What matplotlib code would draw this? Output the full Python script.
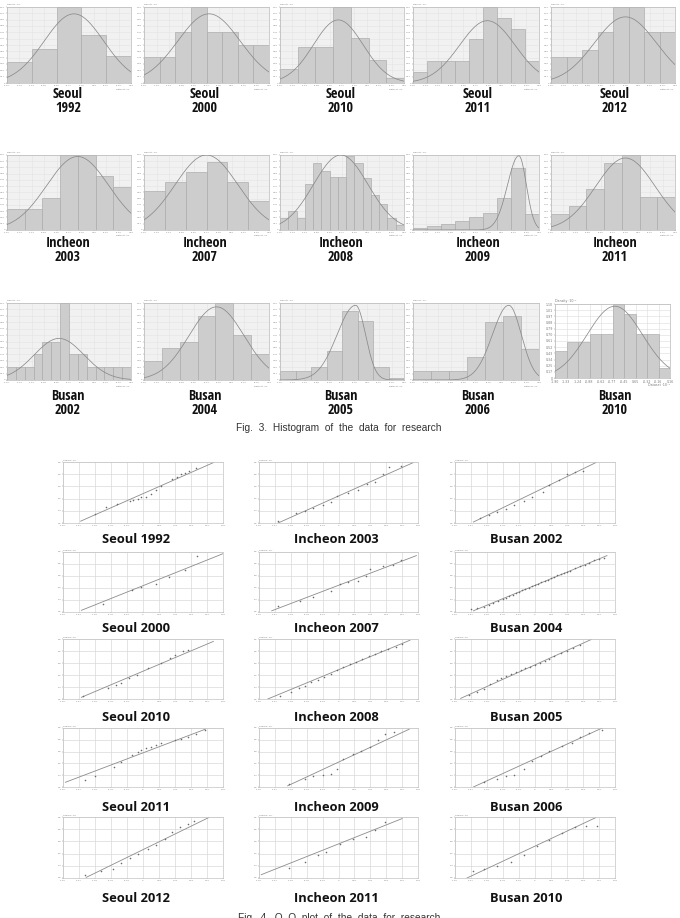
import numpy as np
import matplotlib
matplotlib.use("Agg")
import matplotlib.pyplot as plt
import matplotlib.font_manager as fm

W, H = 680, 918
DPI = 100

# ---------------- Histogram data (bar heights, % of panel top) ----------------
hist_names = ["Seoul 1992", "Seoul 2000", "Seoul 2010", "Seoul 2011", "Seoul 2012",
              "Incheon 2003", "Incheon 2007", "Incheon 2008", "Incheon 2009", "Incheon 2011",
              "Busan 2002", "Busan 2004", "Busan 2005", "Busan 2006", "Busan 2010"]

seoul_1992 = [27, 45, 100, 63, 36]
seoul_2000 = [34, 34, 67, 100, 67, 67, 50, 50]
seoul_2010 = [18, 48, 48, 100, 59, 30, 6]
seoul_2011 = [14, 29, 29, 29, 58, 100, 86, 71, 29]
seoul_2012 = [34, 34, 43, 67, 100, 100, 67, 67]
incheon_2003 = [28, 28, 42, 100, 100, 72, 57]
incheon_2007 = [52, 64, 77, 90, 64, 39]
incheon_2008 = [16, 25, 16, 61, 89, 79, 70, 70, 98, 89, 69, 47, 35, 16, 7]
incheon_2009 = [2, 5, 8, 12, 17, 23, 43, 83, 21]
incheon_2011 = [21, 32, 54, 89, 100, 44, 44]
busan_2002 = [17, 17, 17, 34, 50, 50, 100, 34, 34, 17, 17, 17, 17, 17]
busan_2004 = [25, 41, 50, 83, 100, 59, 34]
busan_2005 = [12, 12, 17, 38, 89, 77, 17, 3]
busan_2006 = [12, 12, 12, 30, 75, 83, 40]
busan_2010 = [36, 48, 48, 60, 60, 100, 87, 60, 60, 14]

hist_heights = [seoul_1992, seoul_2000, seoul_2010, seoul_2011, seoul_2012,
                incheon_2003, incheon_2007, incheon_2008, incheon_2009, incheon_2011,
                busan_2002, busan_2004, busan_2005, busan_2006, busan_2010]

# fitted density curve: centre (fraction of x range), left / right spread, peak (%)
curve_mu = [0.54, 0.52, 0.47, 0.59, 0.60, 0.57, 0.50, 0.49, 0.84, 0.60, 0.42, 0.58, 0.61, 0.76, 0.52]
curve_sl = [0.24, 0.25, 0.20, 0.22, 0.25, 0.25, 0.25, 0.22, 0.09, 0.24, 0.20, 0.22, 0.15, 0.13, 0.24]
curve_sr = [0.24, 0.25, 0.20, 0.22, 0.25, 0.25, 0.25, 0.22, 0.06, 0.24, 0.20, 0.22, 0.08, 0.10, 0.24]
curve_peak = [91, 91, 83, 82, 87, 98, 100, 100, 99, 96, 54, 95, 97, 97, 97]

hist_ytick_labels = ["0", "0.17", "0.25", "0.34", "0.43", "0.52", "0.61", "0.70",
                     "0.79", "0.88", "0.97", "1.01", "1.10"]
hist_xtick_labels = ["-1.90", "-1.33", "-1.24", "-0.88", "-0.62", "-0.77",
                     "-0.45", "0.65", "-0.32", "-0.16", "0.16"]

# ---------------- Q-Q data ----------------
qq_names = ["Seoul 1992", "Incheon 2003", "Busan 2002",
            "Seoul 2000", "Incheon 2007", "Busan 2004",
            "Seoul 2010", "Incheon 2008", "Busan 2005",
            "Seoul 2011", "Incheon 2009", "Busan 2006",
            "Seoul 2012", "Incheon 2011", "Busan 2010"]

# reference line endpoints (theoretical x, sample y)
qq_line = [((1.1, 0.15), (9.4, 4.95)), ((1.2, 0.0), (9.7, 4.95)), ((1.15, 0.08), (8.8, 4.95)),
           ((1.15, 0.14), (10.0, 4.86)), ((0.8, 0.1), (9.9, 4.7)), ((1.15, 0.1), (9.5, 4.7)),
           ((1.15, 0.14), (9.4, 4.8)), ((0.55, 0.0), (9.5, 4.9)), ((0.35, 0.05), (8.5, 4.95)),
           ((0.15, 0.4), (8.9, 4.9)), ((1.8, 0.1), (9.45, 4.9)), ((1.15, 0.0), (9.2, 5.0)),
           ((1.45, 0.05), (9.1, 4.95)), ((0.14, 0.27), (9.0, 4.87)), ((0.75, 0.0), (8.8, 4.95))]

qq_x = [
    [2.0, 2.7, 3.4, 4.2, 4.4, 4.7, 4.9, 5.2, 5.5, 5.8, 6.1, 6.8, 7.1, 7.4, 7.6, 7.9, 8.3],
    [1.2, 2.3, 2.9, 3.4, 4.0, 4.5, 4.9, 5.6, 6.2, 6.8, 7.3, 7.8, 8.2, 8.9],
    [1.55, 2.1, 2.6, 3.2, 3.7, 4.3, 4.8, 5.5, 5.9, 6.5, 7.0, 7.5, 8.0],
    [2.5, 4.3, 4.9, 5.8, 6.6, 7.6, 8.4],
    [1.2, 2.6, 3.4, 4.5, 5.1, 5.6, 6.2, 6.7, 7.0, 7.8, 8.4, 8.9],
    [1.0, 1.4, 1.8, 2.1, 2.4, 2.7, 3.0, 3.2, 3.4, 3.6, 3.8, 4.0, 4.2, 4.4, 4.6, 4.8, 5.0, 5.2,
     5.4, 5.6, 5.8, 6.0, 6.2, 6.4, 6.6, 6.8, 7.0, 7.2, 7.5, 7.8, 8.1, 8.4, 8.7, 9.0, 9.3],
    [1.25, 2.8, 3.3, 3.6, 4.1, 4.6, 5.3, 6.1, 6.7, 7.0, 7.5, 7.8],
    [1.3, 2.0, 2.5, 2.9, 3.3, 3.7, 4.1, 4.5, 4.9, 5.3, 5.7, 6.1, 6.5, 6.9, 7.3, 7.7, 8.1, 8.6, 9.0],
    [0.9, 1.4, 1.8, 2.2, 2.6, 2.9, 3.2, 3.5, 3.8, 4.1, 4.4, 4.7, 5.0, 5.3, 5.6, 5.9, 6.2, 6.6,
     7.0, 7.4, 7.8],
    [1.35, 2.0, 3.2, 3.6, 4.3, 4.7, 4.9, 5.2, 5.5, 5.8, 6.1, 7.0, 7.4, 7.8, 8.3, 8.85],
    [1.9, 2.9, 3.4, 4.0, 4.5, 4.9, 5.3, 5.9, 6.4, 7.0, 7.5, 7.9, 8.5],
    [1.8, 2.6, 3.2, 3.7, 4.3, 4.8, 5.4, 5.9, 6.7, 7.3, 7.8, 8.4, 9.2],
    [1.35, 2.4, 3.1, 3.6, 4.2, 4.7, 5.3, 5.8, 6.35, 6.8, 7.3, 7.8, 8.2],
    [1.9, 2.9, 3.7, 4.2, 5.1, 5.9, 6.7, 7.3, 7.9],
    [1.15, 1.8, 2.6, 3.5, 4.3, 5.1, 5.9, 6.7, 7.5, 8.2, 8.9],
]
qq_y = [
    [0.76, 1.3, 1.57, 1.8, 1.9, 2.0, 2.1, 2.16, 2.4, 2.7, 3.0, 3.6, 3.8, 4.0, 4.1, 4.3, 4.5],
    [0.16, 0.8, 1.0, 1.25, 1.45, 1.7, 2.25, 2.5, 2.7, 3.2, 3.35, 4.0, 4.6, 4.7],
    [0.44, 0.63, 0.9, 1.17, 1.45, 1.8, 2.13, 2.54, 3.1, 3.5, 4.0, 4.2, 4.3],
    [0.64, 1.8, 2.1, 2.3, 2.9, 3.5, 4.7],
    [0.46, 0.95, 1.27, 1.76, 2.35, 2.5, 2.6, 3.0, 3.6, 3.8, 3.9, 4.3],
    [0.25, 0.3, 0.4, 0.55, 0.72, 0.9, 1.05, 1.2, 1.3, 1.42, 1.6, 1.7, 1.85, 1.95, 2.0, 2.15, 2.25,
     2.35, 2.5, 2.6, 2.7, 2.85, 2.95, 3.05, 3.15, 3.25, 3.3, 3.45, 3.65, 3.8, 3.95, 4.1, 4.3, 4.4, 4.5],
    [0.22, 0.9, 1.2, 1.3, 1.75, 2.0, 2.6, 3.0, 3.4, 3.7, 4.0, 4.1],
    [0.25, 0.55, 0.9, 1.1, 1.45, 1.6, 1.85, 2.1, 2.45, 2.7, 2.9, 3.1, 3.3, 3.55, 3.75, 4.0, 4.2, 4.35, 4.6],
    [0.3, 0.55, 0.85, 1.25, 1.55, 1.75, 1.95, 2.1, 2.25, 2.4, 2.55, 2.7, 2.85, 3.0, 3.2, 3.35, 3.55,
     3.8, 4.0, 4.25, 4.5],
    [0.6, 0.9, 1.7, 2.15, 2.7, 3.0, 3.1, 3.3, 3.4, 3.55, 3.7, 4.0, 4.1, 4.25, 4.45, 4.8],
    [0.28, 0.7, 0.9, 1.0, 1.1, 1.5, 2.35, 2.8, 3.05, 3.4, 4.0, 4.45, 4.7],
    [0.4, 0.7, 0.9, 1.0, 1.5, 2.2, 2.6, 3.05, 3.5, 3.75, 4.2, 4.6, 4.8],
    [0.27, 0.54, 0.73, 1.2, 1.6, 2.0, 2.4, 2.7, 3.2, 3.8, 4.2, 4.45, 4.7],
    [0.8, 1.35, 1.9, 2.15, 2.8, 3.2, 3.4, 3.9, 4.6],
    [0.6, 0.73, 0.95, 1.35, 1.9, 2.6, 3.1, 3.65, 4.2, 4.3, 4.25],
]
qq_xtick_labels = ["-1.96", "-1.57", "-1.18", "-0.78", "-0.39", "0", "0.39", "0.78", "1.18", "1.57", "1.96"]
qq_ytick_labels = ["3.2", "4.4", "5.6", "6.8", "8.0", "9.2"]

caption3 = "Fig.  3.  Histogram  of  the  data  for  research"
caption4 = "Fig.  4.  Q\u2013Q  plot  of  the  data  for  research"

# ---------------- layout (pixels) ----------------
hist_cols = [(7, 131), (144, 269), (280, 404), (413, 539), (551, 675)]
hist_rows = [(7, 83), (155, 230), (303, 380)]
hist_label_cx = [68, 205, 341, 478, 615]
hist_label_base = [(98, 112), (247, 261), (400, 414)]

qq_cols = [(63, 223), (259, 418), (455, 615)]
qq_rows = [(462, 523), (552, 612), (639, 699), (728, 787), (817, 878)]
qq_label_cx = [136, 336, 526]
qq_label_base = [543, 632, 721, 811, 902]

fig = plt.figure(figsize=(W / DPI, H / DPI), dpi=DPI)
fig.patch.set_facecolor("white")

LABEL_FONT = ["Open Sans", "DejaVu Sans"]
CAP_FONT = ["Liberation Sans", "DejaVu Sans"]

# narrow bold face for the histogram labels (the original lettering is condensed)
_names = {f.name for f in fm.fontManager.ttflist}
HIST_LABEL_KW = dict(family=LABEL_FONT, fontsize=9.6)
for cand, size in [("Open Sans Condensed", 10.2), ("Roboto Condensed", 10.2),
                   ("Liberation Sans Narrow", 10.2)]:
    if cand in _names:
        HIST_LABEL_KW = dict(family=[cand, "DejaVu Sans"], fontsize=size)
        break
else:
    if any(f.name == "DejaVu Sans" and f.stretch == "condensed" for f in fm.fontManager.ttflist):
        HIST_LABEL_KW = dict(family=["DejaVu Sans"], fontstretch="condensed", fontsize=9.8)


def add_ax(x0, y0, x1, y1):
    return fig.add_axes([x0 / W, 1 - y1 / H, (x1 - x0) / W, (y1 - y0) / H])


def fig_text(x, y, s, **kw):
    fig.text(x / W, 1 - y / H, s, **kw)


# ---------------- histograms ----------------
for i, name in enumerate(hist_names):
    r, c = divmod(i, 5)
    x0, x1 = hist_cols[c]
    y0, y1 = hist_rows[r]
    special = (name == "Busan 2010")
    if special:
        x0, x1 = 555, 670
        y0, y1 = 304, 378
    ax = add_ax(x0, y0, x1, y1)
    h = hist_heights[i]
    n = len(h)
    ax.set_facecolor("#ffffff" if special else "#f1f1f1")
    ax.bar(np.arange(n), h, width=1.0, align="edge", color="#cdcdcd",
           edgecolor="#a9a9a9", linewidth=0.45, zorder=2)
    xs = np.linspace(0, 1, 400)
    s = np.where(xs < curve_mu[i], curve_sl[i], curve_sr[i])
    ys = curve_peak[i] * np.exp(-0.5 * ((xs - curve_mu[i]) / s) ** 2)
    ax.plot(xs * n, ys, color="#8a8a8a", lw=0.55, zorder=3)
    ax.set_xlim(0, n)
    ax.set_ylim(0, 100)
    yt = np.linspace(0, 100, len(hist_ytick_labels))
    ax.set_yticks(yt)
    ax.set_yticklabels(hist_ytick_labels)
    xt = np.linspace(0, n, len(hist_xtick_labels))
    ax.set_xticks(xt)
    ax.set_xticklabels(hist_xtick_labels)
    ax.grid(True, color="#dcdcdc" if special else "#e3e3e3", lw=0.4, zorder=1)
    ax.set_axisbelow(True)
    ls = 2.3 if special else 1.6
    ax.tick_params(length=0.8, width=0.3, labelsize=ls, pad=0.6, colors="#7a7a7a")
    for sp in ax.spines.values():
        sp.set_color("#b8b8b8")
        sp.set_linewidth(0.5)
    ax.text(0.0, 1.02, "Density \u00b710\u207b\u00b9", transform=ax.transAxes,
            fontsize=ls, color="#777777", ha="left", va="bottom")
    ax.text(1.0, -0.07, "Dataset \u00b710\u207b\u00b9", transform=ax.transAxes,
            fontsize=ls, color="#777777", ha="right", va="top")
    city, year = name.split()
    b1, b2 = hist_label_base[r]
    fig_text(hist_label_cx[c], b1, city, ha="center", va="baseline",
             fontweight="bold", color="#111111", **HIST_LABEL_KW)
    fig_text(hist_label_cx[c], b2, year, ha="center", va="baseline",
             fontweight="bold", color="#111111", **HIST_LABEL_KW)

fig_text(339, 431, caption3, ha="center", va="baseline", fontsize=7.3,
         family=CAP_FONT, color="#333333")

# ---------------- Q-Q plots ----------------
for i, name in enumerate(qq_names):
    r, c = divmod(i, 3)
    x0, x1 = qq_cols[c]
    y0, y1 = qq_rows[r]
    ax = add_ax(x0, y0, x1, y1)
    ax.set_facecolor("white")
    ax.set_xlim(0, 10)
    ax.set_ylim(0, 5)
    ax.set_xticks(np.arange(0, 11))
    ax.set_xticklabels(qq_xtick_labels)
    ax.set_yticks(np.arange(0, 6))
    ax.set_yticklabels(qq_ytick_labels)
    ax.grid(True, color="#d9d9d9", lw=0.5, zorder=0)
    ax.set_axisbelow(True)
    ax.tick_params(length=0.8, width=0.3, labelsize=1.6, pad=0.6, colors="#7a7a7a")
    for sp in ax.spines.values():
        sp.set_color("#c4c4c4")
        sp.set_linewidth(0.5)
    (lx0, ly0), (lx1, ly1) = qq_line[i]
    ax.plot([lx0, lx1], [ly0, ly1], color="#8c8c8c", lw=0.6, zorder=2)
    ax.scatter(qq_x[i], qq_y[i], s=1.3, color="#6a6a6a", linewidths=0, zorder=3)
    ax.text(0.0, 1.02, "Sample \u00b710\u207b\u00b9", transform=ax.transAxes,
            fontsize=1.6, color="#777777", ha="left", va="bottom")
    fig_text(qq_label_cx[c], qq_label_base[r], name, ha="center", va="baseline",
             fontsize=9.3, fontweight="bold", family=LABEL_FONT, color="#111111")

fig_text(339, 921, caption4, ha="center", va="baseline", fontsize=7.3,
         family=CAP_FONT, color="#333333")

fig.savefig("out.png", dpi=DPI, facecolor="white")
